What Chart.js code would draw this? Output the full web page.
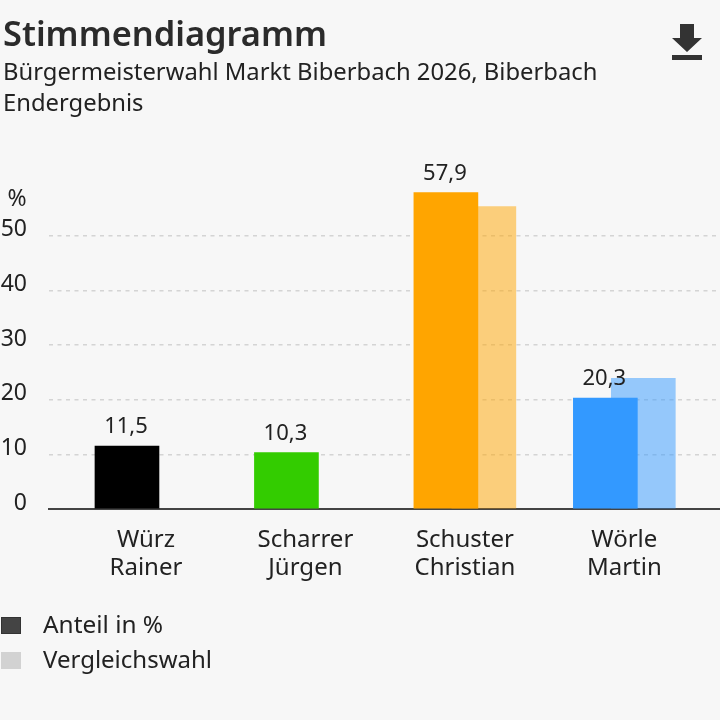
<!DOCTYPE html>
<html lang="de"><head><meta charset="utf-8">
<script src="https://cdn.jsdelivr.net/npm/chart.js@4"></script>
<style>
html,body{margin:0;padding:0;background:#f7f7f7;width:720px;height:720px;overflow:hidden}
body{position:relative;font-family:"Noto Sans",sans-serif;color:#222}
canvas{position:absolute;left:0;top:0}
.t{position:absolute;white-space:nowrap;line-height:1;transform-origin:left center}
.sw{position:absolute;left:1px;width:20px;height:17px;box-sizing:border-box}
</style></head><body>
<canvas id="c" width="720" height="720"></canvas>
<div class="t" id="title" style="left:3px;top:16px;font-size:34.4px;font-weight:600;color:#2b2b2b">Stimmendiagramm</div>
<div class="t" id="sub1" style="left:3px;top:60px;font-size:23.8px">Bürgermeisterwahl Markt Biberbach 2026, Biberbach</div>
<div class="t" id="sub2" style="left:3px;top:91px;font-size:23.8px">Endergebnis</div>
<svg style="position:absolute;left:672px;top:24px" width="30" height="37" viewBox="0 0 30 37">
<path d="M8 0H22V14H30L15 28L0 14H8Z M0 31H30V36H0Z" fill="#333"/></svg>
<div class="sw" style="top:617px;background:#444;border:1px solid #333"></div>
<div class="sw" style="top:652px;background:#d2d2d2"></div>
<div class="t" id="leg1" style="left:43px;top:612px;font-size:24.4px">Anteil in %</div>
<div class="t" id="leg2" style="left:43px;top:647px;font-size:24px">Vergleichswahl</div>
<script>
const categories = [["Würz","Rainer"],["Scharrer","Jürgen"],["Schuster","Christian"],["Wörle","Martin"]];
const shareValues = [11.5, 10.3, 57.9, 20.3];
const compareValues = [null, null, 55.3, 23.9];
const shareColors = ["#000000","#33cc00","#ffa500","#3399ff"];
const compareColors = ["#000000","#33cc00","rgba(255,165,0,0.5)","rgba(51,153,255,0.5)"];
const yTicks = [10,20,30,40,50];
const dark = "#222";
const font = "Noto Sans";

const extras = {
  id:"extras",
  afterDatasetsDraw(chart){
    const {ctx} = chart, meta = chart.getDatasetMeta(0);
    ctx.save();
    ctx.font = "22px '"+font+"'"; ctx.fillStyle = dark;
    ctx.textAlign = "center"; ctx.textBaseline = "middle";
    meta.data.forEach((bar,i)=>{
      ctx.fillText(shareValues[i].toFixed(1).replace(".",","), bar.x-1, bar.y-19);
    });
    ctx.font = "23px '"+font+"'";
    ctx.fillText("%", 17, 199);
    ctx.restore();
  }
};
new Chart(document.getElementById("c"),{
  type:"bar",
  data:{datasets:[
    {label:"Anteil in %",data:shareValues.map((y,i)=>({x:i-0.119,y})),backgroundColor:shareColors},
    {label:"Vergleichswahl",data:compareValues.map((y,i)=>({x:i+0.119,y})),backgroundColor:compareColors}
  ]},
  options:{
    responsive:false,animation:false,
    layout:{padding:{top:181,left:0,right:0,bottom:0}},
    plugins:{legend:{display:false},title:{display:false},tooltip:{enabled:false}},
    datasets:{bar:{grouped:false,barThickness:64}},
    scales:{
      x:{type:"linear",offset:false,min:-0.608,max:3.6,
        grid:{display:false},
        border:{color:"#444",width:2},
        afterBuildTicks(s){s.ticks=categories.map((_,i)=>({value:i}));},
        afterFit(s){s.height=211;},
        ticks:{autoSkip:false,maxRotation:0,padding:9,color:dark,
          font:{family:font,size:24,lineHeight:1.17},
          callback:v=>categories[v]}
      },
      y:{min:0,max:60,
        grid:{color:"#d4d4d4",lineWidth:1.5,drawTicks:false},
        border:{display:false,dash:[4,4.5]},
        afterBuildTicks(s){s.ticks=[0].concat(yTicks).map(value=>({value}));},
        afterFit(s){s.width=49;},
        ticks:{padding:22,labelOffset:-6,color:dark,font:{family:font,size:23}}
      }
    }
  },
  plugins:[extras]
});
</script></body></html>
